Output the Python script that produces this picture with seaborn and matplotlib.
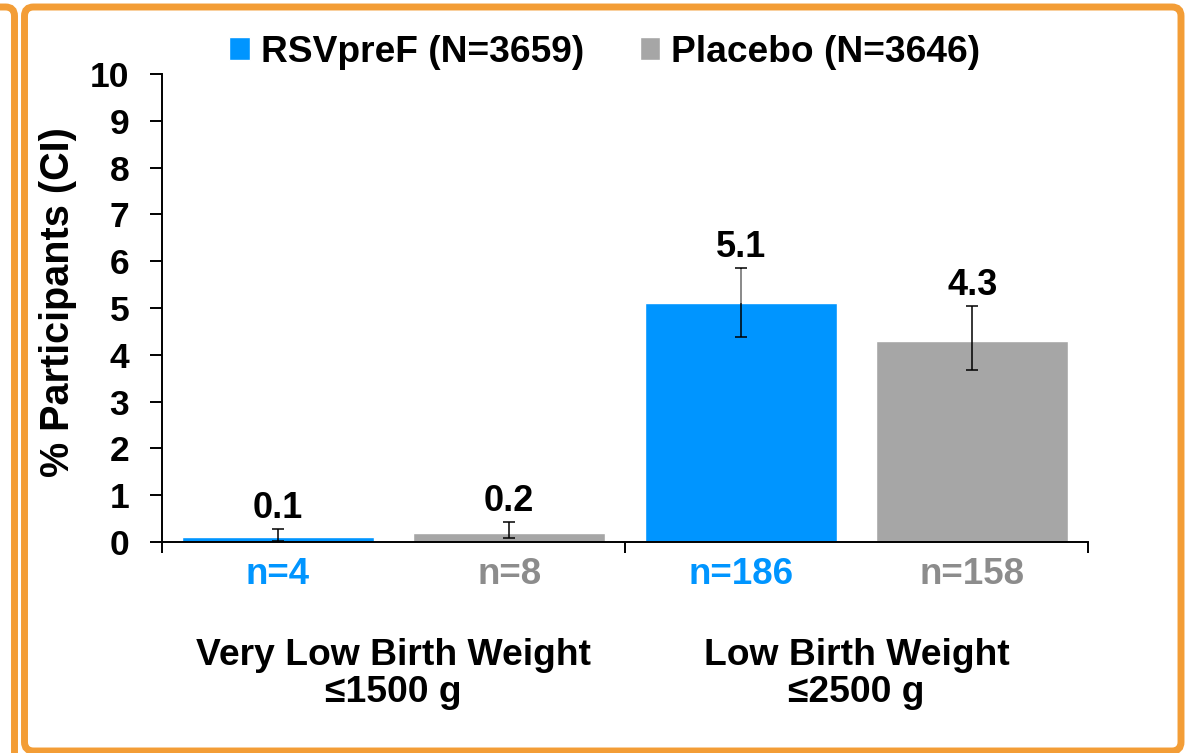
import numpy as np
import pandas as pd
import seaborn as sns
import matplotlib.pyplot as plt
from matplotlib.patches import FancyBboxPatch
from matplotlib.transforms import IdentityTransform

#%% data
groups = ['Very Low Birth Weight\n≤1500 g', 'Low Birth Weight\n≤2500 g']
arms = ['RSVpreF (N=3659)', 'Placebo (N=3646)']
bar_arm = ['RSVpreF (N=3659)', 'Placebo (N=3646)', 'RSVpreF (N=3659)', 'Placebo (N=3646)']
n_labels = ['n=4', 'n=8', 'n=186', 'n=158']
pct = [0.1, 0.2, 5.1, 4.3]
ci_low = [0.03, 0.09, 4.39, 3.68]
ci_high = [0.27, 0.43, 5.85, 5.04]

blue = '#0095FF'
gray = '#A6A6A6'
orange = '#F39D36'

df = pd.DataFrame({'n': n_labels, 'pct': pct, 'arm': bar_arm})

#%% plot
sns.set_style('white')
plt.rcParams['font.family'] = ['Liberation Sans', 'DejaVu Sans']
plt.rcParams['font.weight'] = 'bold'
for k in ['text.color', 'axes.labelcolor', 'xtick.color', 'ytick.color']:
    plt.rcParams[k] = 'black'

fig = plt.figure(figsize=(11.87, 7.53), dpi=100)
ax = fig.add_axes([162/1187, 211/753, 926/1187, 468/753])

sns.barplot(data=df, x='n', y='pct', hue='arm', order=n_labels, hue_order=arms,
            palette=[blue, gray], dodge=False, width=0.83, saturation=1, ax=ax)

pct_a = np.array(pct)
yerr = [pct_a - np.array(ci_low), np.array(ci_high) - pct_a]
ax.errorbar(range(len(pct)), pct, yerr=yerr, fmt='none', ecolor='black',
            elinewidth=1.1, capsize=4.5, capthick=1.1, zorder=5)
# the part of the 5.1 whisker above the bar is grey in the original
ax.vlines(2, pct[2], ci_high[2] - 0.02, color=gray, lw=1.1, zorder=6)

for i, v in enumerate(pct):
    ax.annotate(f'{v:.1f}', (i, ci_high[i]), xytext=(0, 8), textcoords='offset points',
                ha='center', va='baseline', fontsize=26, fontweight='bold')

ax.set_ylim(0, 10)
ax.set_xlim(-0.5, 3.5)
ax.set_yticks(range(0, 11))
ax.tick_params(axis='y', labelsize=25.5, length=8.6, width=1.4, pad=15, direction='out', left=True)
ax.tick_params(axis='x', which='major', length=0, labelsize=26.5, pad=11)
ax.set_xticks([-0.5, 1.5, 3.5], minor=True)
ax.tick_params(axis='x', which='minor', length=8, width=1.4, direction='out', bottom=True)
for lab, c in zip(ax.get_xticklabels(), [blue, '#8C8C8C', blue, '#8C8C8C']):
    lab.set_color(c)
    lab.set_fontweight('bold')
for lab in ax.get_yticklabels():
    lab.set_fontweight('bold')

ax.set_xlabel('')
ax.set_ylabel('% Participants (CI)', fontsize=28.5, fontweight='bold')
ax.yaxis.set_label_coords(-0.092, 0.513)

sns.despine(ax=ax)
for s in ['left', 'bottom']:
    ax.spines[s].set_color('black')
    ax.spines[s].set_linewidth(1.4)

for j, g in enumerate(groups):
    ax.text(0.5 + 2 * j, -0.282, g, transform=ax.get_xaxis_transform(), ha='center',
            va='center', fontsize=26.8, fontweight='bold', linespacing=1.07)

handles, labels = ax.get_legend_handles_labels()
ax.legend(handles, labels, loc='center', bbox_to_anchor=(0.478, 1.047), ncol=2,
          frameon=False, handlelength=0.55, handleheight=0.55,
          handletextpad=0.3, columnspacing=1.5, prop={'weight': 'bold', 'size': 26.7})

# orange slide borders
fig.add_artist(FancyBboxPatch((24.5, 2), 1181 - 24.5, 744, boxstyle='round,pad=0,rounding_size=9',
                              transform=IdentityTransform(), fill=False, ec=orange, lw=5))
fig.add_artist(FancyBboxPatch((-200, -50), 214.5, 796, boxstyle='round,pad=0,rounding_size=9',
                              transform=IdentityTransform(), fill=False, ec=orange, lw=5))

fig.savefig('out.png', dpi=100)
